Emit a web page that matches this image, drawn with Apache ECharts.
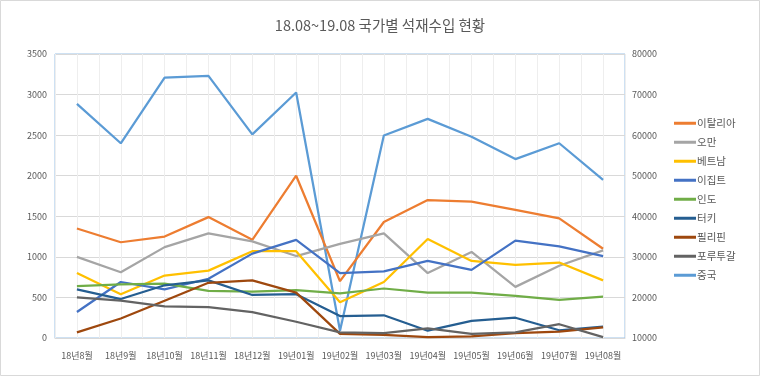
<!DOCTYPE html>
<html>
<head>
<meta charset="utf-8">
<script src="https://cdn.jsdelivr.net/npm/echarts@6/dist/echarts.min.js"></script>
<style>
  html, body { margin: 0; padding: 0; background: #fff; }
  #chart { width: 760px; height: 376px; }
</style>
</head>
<body>
<div id="chart"></div>
<script>
// 18.08~19.08 국가별 석재수입 현황
var months = ['18년8월', '18년9월', '18년10월', '18년11월', '18년12월', '19년01월', '19년02월',
  '19년03월', '19년04월', '19년05월', '19년06월', '19년07월', '19년08월'];

var italy    = [1350, 1180, 1250, 1490, 1210, 2000, 700, 1430, 1700, 1680, 1580, 1475, 1100];
var oman     = [1000, 810, 1120, 1290, 1190, 1010, 1160, 1290, 800, 1060, 630, 890, 1080];
var vietnam  = [800, 540, 770, 830, 1070, 1070, 440, 690, 1220, 950, 900, 930, 710];
var egypt    = [320, 690, 600, 730, 1040, 1210, 800, 820, 950, 840, 1200, 1130, 1010];
var india    = [640, 660, 670, 580, 570, 590, 550, 610, 560, 560, 520, 470, 510];
var turkey   = [600, 480, 650, 710, 530, 540, 270, 280, 90, 210, 250, 95, 140];
var phil     = [70, 240, 460, 680, 710, 560, 50, 40, 10, 20, 60, 80, 130];
var portugal = [500, 460, 390, 380, 320, 200, 70, 60, 120, 50, 70, 170, 10];
var china    = [67700, 58000, 74200, 74600, 60200, 70500, 11800, 59900, 64000, 59600, 54100, 58000, 49000];

var names  = ['이탈리아', '오만', '베트남', '이집트', '인도', '터키', '필리핀', '포루투갈', '중국'];
var values = [italy, oman, vietnam, egypt, india, turkey, phil, portugal, china];
var colors = ['#ED7D31', '#A5A5A5', '#FFC000', '#4472C4', '#70AD47', '#255E91', '#9E480E', '#636363', '#5B9BD5'];

// half-category slots, only used for the light vertical grid
var halfSlots = [];
for (var i = 0; i < months.length * 2; i++) halfSlots.push(i);

var font = 'Noto Sans CJK KR';
var txt = '#595959';

function plain(v) { return String(v); }

var series = [];
for (var k = 0; k < names.length; k++) {
  series.push({
    name: names[k],
    type: 'line',
    yAxisIndex: k == 8 ? 1 : 0,
    data: values[k],
    symbol: 'none',
    lineStyle: { width: 2.25, color: colors[k] },
    itemStyle: { color: colors[k] },
    z: k == 8 ? 1 : 2 + k
  });
}

var chart = echarts.init(document.getElementById('chart'), null, { renderer: 'canvas' });
chart.setOption({
  animation: false,
  backgroundColor: '#fff',
  textStyle: { fontFamily: font },
  graphic: [{
    type: 'rect',
    shape: { x: 0.5, y: 0.5, width: 759, height: 375 },
    style: { fill: 'none', stroke: '#d9d9d9', lineWidth: 1 },
    silent: true
  }],
  title: {
    text: '18.08~19.08 국가별 석재수입 현황',
    left: 'center',
    top: 13,
    textStyle: { fontFamily: font, fontSize: 14.5, fontWeight: 'normal', color: txt }
  },
  legend: {
    orient: 'vertical',
    left: 669,
    top: 113,
    itemWidth: 22,
    itemHeight: 3,
    itemGap: 8.5,
    icon: 'rect',
    data: names,
    textStyle: { fontFamily: font, fontSize: 10.5, color: txt, padding: [0, 0, 0, -4] }
  },
  grid: {
    left: 55,
    right: 135,
    top: 54,
    bottom: 38,
    show: true,
    borderColor: '#9DC3E6',
    borderWidth: 1
  },
  xAxis: [{
    type: 'category',
    data: months,
    boundaryGap: true,
    axisLine: { lineStyle: { color: '#d9d9d9' } },
    axisTick: { show: false },
    axisLabel: { color: txt, fontSize: 9, fontFamily: font, interval: 0, margin: 13 },
    splitLine: { show: false }
  }, {
    type: 'category',
    data: halfSlots,
    boundaryGap: true,
    position: 'bottom',
    axisLine: { show: false },
    axisTick: { show: false },
    axisLabel: { show: false },
    splitLine: { show: true, interval: 0, lineStyle: { color: '#eeeeee', width: 1 } }
  }],
  yAxis: [{
    type: 'value',
    min: 0,
    max: 3500,
    interval: 500,
    axisLine: { show: false },
    axisTick: { show: false },
    axisLabel: { color: txt, fontSize: 9, fontFamily: font, margin: 8, formatter: plain },
    splitLine: { lineStyle: { color: '#d9d9d9', width: 1 } }
  }, {
    type: 'value',
    min: 10000,
    max: 80000,
    interval: 10000,
    axisLine: { show: false },
    axisTick: { show: false },
    axisLabel: { color: txt, fontSize: 9, fontFamily: font, margin: 7, formatter: plain },
    splitLine: { show: false }
  }],
  series: series
});
</script>
</body>
</html>
